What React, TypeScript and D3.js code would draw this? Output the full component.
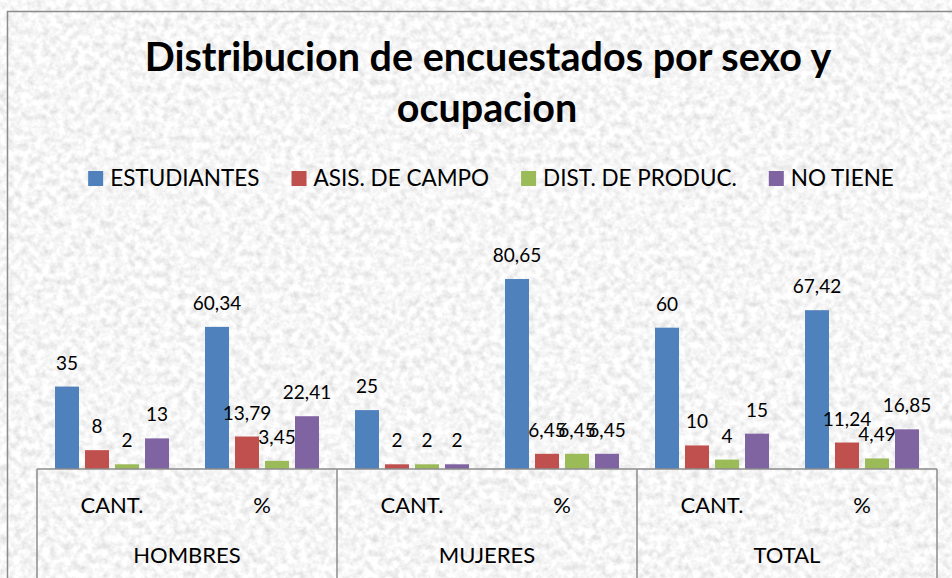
import { useEffect, useRef } from "react";
import * as d3 from "d3";

const groups = ["HOMBRES", "MUJERES", "TOTAL"];
const subCats = ["CANT.", "%"];
const series = ["ESTUDIANTES", "ASIS. DE CAMPO", "DIST. DE PRODUC.", "NO TIENE"];
const colors = ["#4F81BD", "#C0504D", "#9BBB59", "#8064A2"];

// one entry per category (group x sub-category), one array per series
const estudiantes = [35, 60.34, 25, 80.65, 60, 67.42];
const asisCampo = [8, 13.79, 2, 6.45, 10, 11.24];
const distProduc = [2, 3.45, 2, 6.45, 4, 4.49];
const noTiene = [13, 22.41, 2, 6.45, 15, 16.85];
const valueSets = [estudiantes, asisCampo, distProduc, noTiene];

const W = 952;
const H = 578;
const FONT = "Lato, 'Open Sans', sans-serif";

export default function App() {
  const svgRef = useRef<SVGSVGElement>(null);

  useEffect(() => {
    if (!svgRef.current) return;
    const svg = d3.select(svgRef.current);
    svg.selectAll("*").remove();

    // marble-ish background texture
    const defs = svg.append("defs");
    const f = defs
      .append("filter")
      .attr("id", "marble")
      .attr("filterUnits", "userSpaceOnUse")
      .attr("x", 0)
      .attr("y", 0)
      .attr("width", W)
      .attr("height", H);
    f.append("feTurbulence")
      .attr("type", "fractalNoise")
      .attr("baseFrequency", 0.14)
      .attr("numOctaves", 4)
      .attr("seed", 7)
      .attr("result", "n");
    f.append("feColorMatrix")
      .attr("in", "n")
      .attr("type", "matrix")
      .attr(
        "values",
        "0.5 0 0 0 0.67  0.5 0 0 0 0.67  0.5 0 0 0 0.67  0 0 0 0 1"
      );

    svg.append("rect").attr("width", W).attr("height", H).attr("fill", "#fff");
    svg
      .append("rect")
      .attr("x", 7.5)
      .attr("y", 11.5)
      .attr("width", W + 20)
      .attr("height", H + 20)
      .attr("fill", "#e9e9e9")
      .attr("filter", "url(#marble)");
    svg
      .append("rect")
      .attr("x", 7.5)
      .attr("y", 11.5)
      .attr("width", W + 20)
      .attr("height", H + 20)
      .attr("fill", "none")
      .attr("stroke", "#8c8c8c")
      .attr("stroke-width", 1.5);

    // title
    const title = svg
      .append("text")
      .attr("text-anchor", "middle")
      .attr("font-family", FONT)
      .attr("font-weight", "bold")
      .attr("font-size", 39.5)
      .attr("fill", "#000");
    title.append("tspan").attr("x", 488).attr("y", 71).text("Distribucion de encuestados por sexo y");
    title.append("tspan").attr("x", 487).attr("y", 122).text("ocupacion");

    // legend, laid out from measured text widths
    const legend = svg.append("g");
    let lx = 0;
    series.forEach((s, i) => {
      const g = legend.append("g").attr("transform", `translate(${lx},0)`);
      g.append("rect")
        .attr("x", 0)
        .attr("y", 171)
        .attr("width", 15)
        .attr("height", 15)
        .attr("fill", colors[i]);
      const t = g
        .append("text")
        .attr("x", 22)
        .attr("y", 186)
        .attr("font-family", FONT)
        .attr("font-size", 22.5)
        .attr("fill", "#000")
        .text(s);
      const tw = (t.node() as SVGTextElement).getComputedTextLength();
      lx += 22 + tw + (i < series.length - 1 ? 32 : 0);
    });
    legend.attr("transform", `translate(${491 - lx / 2},0)`);

    // scales
    const cats = groups.flatMap((g) => subCats.map((c) => `${g}|${c}`));
    const plotLeft = 37;
    const plotRight = 937;
    const baseY = 469;
    const x0 = d3.scaleBand<string>().domain(cats).range([plotLeft, plotRight]);
    const x1 = d3
      .scaleBand<number>()
      .domain(d3.range(series.length))
      .range([x0.bandwidth() * 0.12, x0.bandwidth() * 0.88])
      .paddingInner(0.2);
    const y = d3.scaleLinear().domain([0, 90]).range([baseY, baseY - 212]);

    // bars + labels
    cats.forEach((c, ci) => {
      const g = svg.append("g").attr("transform", `translate(${x0(c)},0)`);
      valueSets.forEach((vals, si) => {
        const v = vals[ci];
        const bx = x1(si)!;
        g.append("rect")
          .attr("x", bx)
          .attr("y", y(v))
          .attr("width", x1.bandwidth())
          .attr("height", baseY - y(v))
          .attr("fill", colors[si]);
        g.append("text")
          .attr("x", bx + x1.bandwidth() / 2)
          .attr("y", y(v) - 17)
          .attr("text-anchor", "middle")
          .attr("font-family", FONT)
          .attr("font-size", 19)
          .attr("fill", "#000")
          .text(String(v).replace(".", ","));
      });
    });

    // multi-level category axis
    const axisColor = "#8c8c8c";
    svg
      .append("line")
      .attr("x1", plotLeft)
      .attr("x2", plotRight)
      .attr("y1", baseY)
      .attr("y2", baseY)
      .attr("stroke", axisColor)
      .attr("stroke-width", 1.5);
    const groupX = d3.scaleBand<string>().domain(groups).range([plotLeft, plotRight]);
    [...groups.map((g) => groupX(g)!), plotRight].forEach((gx) => {
      svg
        .append("line")
        .attr("x1", gx)
        .attr("x2", gx)
        .attr("y1", baseY)
        .attr("y2", H)
        .attr("stroke", axisColor)
        .attr("stroke-width", 1.5);
    });
    cats.forEach((c) => {
      svg
        .append("text")
        .attr("x", x0(c)! + x0.bandwidth() / 2)
        .attr("y", 513)
        .attr("text-anchor", "middle")
        .attr("font-family", FONT)
        .attr("font-size", 22)
        .attr("fill", "#000")
        .text(c.split("|")[1]);
    });
    groups.forEach((g) => {
      svg
        .append("text")
        .attr("x", groupX(g)! + groupX.bandwidth() / 2)
        .attr("y", 563)
        .attr("text-anchor", "middle")
        .attr("font-family", FONT)
        .attr("font-size", 22)
        .attr("fill", "#000")
        .text(g);
    });
  }, []);

  return (
    <div style={{ position: "fixed", left: 0, top: 0 }}>
      <svg ref={svgRef} width={W} height={H} style={{ display: "block" }}></svg>
    </div>
  );
}
